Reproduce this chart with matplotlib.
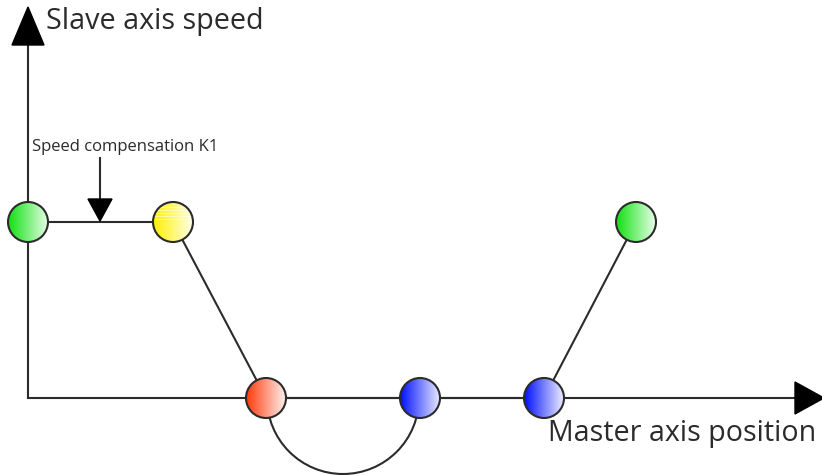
import matplotlib
matplotlib.use("Agg")
import matplotlib.pyplot as plt
import numpy as np
from matplotlib.patches import Circle, Arc, Polygon

# node positions (master axis position, slave axis speed)
node_pos = [0, 145, 238, 392, 516, 608]
node_speed = [176, 176, 0, 0, 0, 176]
node_left = ["#10e010", "#fff000", "#ff3a0a", "#0010ff", "#0010ff", "#10e010"]
node_right = ["#eaffea", "#ffffe6", "#fff0ee", "#eeeeff", "#eeeeff", "#eaffea"]

# path segments between nodes (indexes)
segments = [(0, 1), (1, 2), (2, 3), (3, 4), (4, 5)]
k1_pos = 72

line_col = "#2b2b2b"
r = 20

fig = plt.figure(figsize=(8.22, 4.75), dpi=100)
ax = fig.add_axes([0, 0, 1, 1])
ax.set_xlim(-28, 794)
ax.set_ylim(-77, 398)
ax.set_aspect("equal")
ax.axis("off")

# axes
ax.plot([0, 0], [0, 360], color=line_col, lw=1.5, zorder=1)
ax.plot([0, 770], [0, 0], color=line_col, lw=1.5, zorder=1)
ax.add_patch(Polygon([[-16, 353], [16, 353], [0, 391]], closed=True, color="black", zorder=2))
ax.add_patch(Polygon([[767, 16], [767, -16], [796, 0]], closed=True, color="black", zorder=2))

# connections
for a, b in segments:
    ax.plot([node_pos[a], node_pos[b]], [node_speed[a], node_speed[b]],
            color=line_col, lw=1.5, zorder=1)

# arc under the axis
cx = (node_pos[2] + node_pos[3]) / 2
ax.add_patch(Arc((cx, 0), 152, 152, theta1=180, theta2=360,
                 color=line_col, lw=1.5, zorder=1))

# gradient nodes
for i, (x, y, c1, c2) in enumerate(zip(node_pos, node_speed, node_left, node_right)):
    c1 = np.array(matplotlib.colors.to_rgb(c1))
    c2 = np.array(matplotlib.colors.to_rgb(c2))
    t = np.linspace(0, 1, 64)[None, :, None]
    grad = c1 * (1 - t) + c2 * t
    grad = np.repeat(grad, 2, axis=0)
    circ = Circle((x, y), r, facecolor="none", edgecolor=line_col, lw=1.5, zorder=4)
    ax.add_patch(circ)
    im = ax.imshow(grad, extent=[x - r, x + r, y - r, y + r], zorder=3,
                   interpolation="bilinear", aspect="auto")
    im.set_clip_path(circ)
    if i == 1:
        # faint streaks on the yellow node
        for dy in [3, 6, 9, 12, 15]:
            ln, = ax.plot([x - r, x + r], [y + dy, y + dy], color="white",
                          lw=0.6, alpha=0.6, zorder=3.5)
            ln.set_clip_path(circ)

# speed compensation arrow
ax.plot([k1_pos, k1_pos], [240, 195], color=line_col, lw=1.5, zorder=1)
ax.add_patch(Polygon([[k1_pos - 12, 199], [k1_pos + 12, 199], [k1_pos, 177]],
                     closed=True, color="black", zorder=2))

ax.text(18, 377, "Slave axis speed", fontsize=20.7, family="Open Sans",
        color="#2b2b2b", ha="left", va="center")
ax.text(520, -36, "Master axis position", fontsize=20.6, family="Open Sans",
        color="#2b2b2b", ha="left", va="center")
ax.text(4, 251, "Speed compensation K1", fontsize=12, family="Open Sans",
        color="#2b2b2b", ha="left", va="center")

ax.set_xlim(-28, 794)
ax.set_ylim(-77, 398)
fig.savefig("out.png", dpi=100)
